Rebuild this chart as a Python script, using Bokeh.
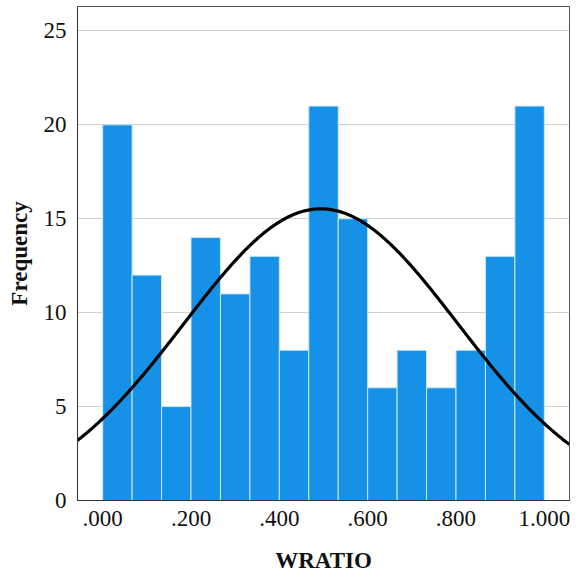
import numpy as np
from bokeh.plotting import figure
from bokeh.models import FixedTicker, Range1d
from bokeh.embed import file_html
from bokeh.resources import INLINE

# Data
bin_left = [0.0, 1/15, 2/15, 3/15, 4/15, 5/15, 6/15, 7/15, 8/15, 9/15, 10/15, 11/15, 12/15, 13/15, 14/15]
bin_width = 1/15
frequency = [20, 12, 5, 14, 11, 13, 8, 21, 15, 6, 8, 6, 8, 13, 21]
x_ticks = [0.0, 0.2, 0.4, 0.6, 0.8, 1.0]
x_tick_labels = [".000", ".200", ".400", ".600", ".800", "1.000"]
y_ticks = [0, 5, 10, 15, 20, 25]
mean_wratio = 0.494
sd_wratio = 0.310

n_total = sum(frequency)
lefts = np.array(bin_left)
rights = lefts + bin_width

p = figure(width=585, height=579, output_backend="svg", toolbar_location=None,
           x_range=Range1d(-0.057, 1.057), y_range=Range1d(0, 26.3),
           min_border_left=77, min_border_top=6, min_border_right=16, min_border_bottom=79)
p.frame_width = 492
p.frame_height = 494

p.quad(left=lefts, right=rights, bottom=0, top=frequency,
       fill_color="#1591E7", line_color="#cfe6fa", line_width=1)

xs = np.linspace(-0.057, 1.057, 300)
ys = n_total * bin_width / (sd_wratio * np.sqrt(2 * np.pi)) * np.exp(-(xs - mean_wratio) ** 2 / (2 * sd_wratio ** 2))
p.line(xs, ys, line_color="black", line_width=3.2)

p.outline_line_color = "#555555"
p.outline_line_width = 1
p.background_fill_color = "white"
p.border_fill_color = "white"

p.xgrid.grid_line_color = None
p.ygrid.grid_line_color = "#d0d0d0"
p.ygrid.grid_line_width = 1
p.ygrid.ticker = FixedTicker(ticks=y_ticks)

p.xaxis.ticker = FixedTicker(ticks=x_ticks)
p.xaxis.major_label_overrides = {t: l for t, l in zip(x_ticks, x_tick_labels)}
p.yaxis.ticker = FixedTicker(ticks=y_ticks)

for ax in (p.xaxis[0], p.yaxis[0]):
    ax.major_tick_line_color = None
    ax.minor_tick_line_color = None
    ax.axis_line_color = "#333333"
    ax.major_label_text_font = "Liberation Serif"
    ax.major_label_text_font_size = "23px"
    ax.major_label_text_color = "#111111"
    ax.axis_label_text_font = "Liberation Serif"
    ax.axis_label_text_font_style = "bold"
    ax.axis_label_text_color = "#111111"
    ax.axis_label_text_font_size = "23px"

p.xaxis.axis_label = "WRATIO"
p.xaxis.major_label_standoff = 4
p.xaxis.axis_label_standoff = 19
p.yaxis.axis_label = "Frequency"
p.yaxis.major_label_standoff = 5
p.yaxis.axis_label_standoff = 9

open("out.html", "w").write(file_html(p, INLINE))
